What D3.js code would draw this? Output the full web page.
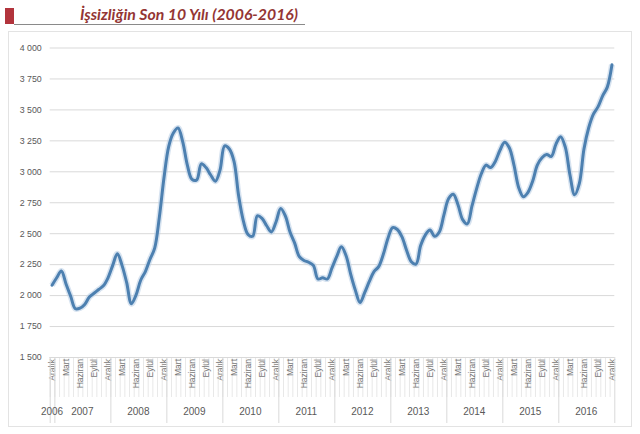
<!DOCTYPE html>
<html>
<head>
<meta charset="utf-8">
<script src="https://cdn.jsdelivr.net/npm/d3@7"></script>
<style>
  body { margin: 0; background: #fff; }
  svg { display: block; }
</style>
</head>
<body>
<div id="chart"></div>
<script>
// Aylık işsiz sayısı (bin kişi), Aralık 2006 - Aralık 2016
var years = [2006, 2007, 2008, 2009, 2010, 2011, 2012, 2013, 2014, 2015, 2016];
var monthNames = ["Ocak", "Şubat", "Mart", "Nisan", "Mayıs", "Haziran",
                  "Temmuz", "Ağustos", "Eylül", "Ekim", "Kasım", "Aralık"];
var values = [
  2080,                                                             // 2006 Ara
  2140, 2195, 2090, 1990, 1890, 1895, 1925, 1985, 2015, 2045, 2075, 2140, // 2007
  2240, 2335, 2240, 2100, 1930, 2000, 2120, 2190, 2290, 2380, 2630, 2950, // 2008
  3200, 3310, 3350, 3240, 3050, 2935, 2930, 3060, 3030, 2970, 2920, 3010, // 2009
  3205, 3180, 3080, 2800, 2600, 2490, 2475, 2640, 2620, 2560, 2510, 2590, // 2010
  2700, 2640, 2510, 2420, 2310, 2280, 2265, 2240, 2130, 2140, 2130, 2220, // 2011
  2310, 2390, 2320, 2170, 2040, 1940, 2020, 2110, 2190, 2230, 2330, 2460, // 2012
  2545, 2530, 2470, 2360, 2270, 2250, 2400, 2485, 2525, 2475, 2510, 2650, // 2013
  2780, 2815, 2730, 2610, 2575, 2720, 2860, 2980, 3050, 3030, 3080, 3170, // 2014
  3235, 3190, 3050, 2870, 2795, 2830, 2920, 3050, 3110, 3135, 3120, 3220, // 2015
  3280, 3195, 2970, 2810, 2900, 3180, 3350, 3460, 3520, 3610, 3680, 3860  // 2016
];
var yTicks = [1500, 1750, 2000, 2250, 2500, 2750, 3000, 3250, 3500, 3750, 4000];
var labelEvery = 3;

// categories: Aralık 2006, then every month of 2007..2016
var categories = [{ year: years[0], month: 11 }];
years.slice(1).forEach(function (y) {
    monthNames.forEach(function (m, i) { categories.push({ year: y, month: i }); });
});
categories.forEach(function (c, i) { c.value = values[i]; c.index = i; });

var W = 640, H = 434;
var plot = { left: 49.7, right: 614.3, top: 47.5, bottom: 357 };

var svg = d3.select('#chart').append('svg')
    .attr('width', W)
    .attr('height', H);

// title block
svg.append('rect')
    .attr('x', 5).attr('y', 8).attr('width', 9).attr('height', 16)
    .attr('fill', '#b2343c');
svg.append('line')
    .attr('x1', 14).attr('x2', 305).attr('y1', 24.5).attr('y2', 24.5)
    .attr('stroke', '#8a8a8a').attr('stroke-width', 1);
svg.append('text')
    .attr('x', 80).attr('y', 20)
    .attr('textLength', 218).attr('lengthAdjust', 'spacingAndGlyphs')
    .attr('font-family', 'Lato, "Open Sans", sans-serif')
    .attr('font-style', 'italic').attr('font-weight', 'bold')
    .attr('font-size', 14.5)
    .attr('fill', '#943634')
    .text('İşsizliğin Son 10 Yılı (2006-2016)');

// chart frame
svg.append('rect')
    .attr('x', 8.5).attr('y', 31.5).attr('width', 623).attr('height', 395)
    .attr('fill', 'none').attr('stroke', '#e3e3e3');

var x = d3.scaleBand()
    .domain(categories.map(function (c) { return c.index; }))
    .range([plot.left, plot.right])
    .paddingInner(0).paddingOuter(0);
var bw = x.bandwidth();
var cx = function (c) { return x(c.index) + bw / 2; };

var y = d3.scaleLinear()
    .domain([1500, 4000])
    .range([plot.bottom, plot.top]);

// grid lines + y labels
var yAxis = d3.axisLeft(y)
    .tickValues(yTicks)
    .tickSize(-(plot.right - plot.left))
    .tickPadding(8)
    .tickFormat(function (d) { return d3.format(',')(d).replace(',', ' '); });

var gy = svg.append('g')
    .attr('transform', 'translate(' + plot.left + ',0)')
    .call(yAxis);
gy.select('.domain').remove();
gy.selectAll('.tick line').attr('stroke', '#d9d9d9');
gy.selectAll('.tick text')
    .attr('x', -8)
    .attr('fill', '#595959')
    .attr('font-family', '"Liberation Sans", Arial, sans-serif')
    .attr('font-size', 8.8);

// category axis: month ticks
var axisG = svg.append('g');
var labelBottom = 397, yearBottom = 423;

axisG.selectAll('line.mtick')
    .data(categories)
    .enter().append('line')
    .attr('class', 'mtick')
    .attr('x1', function (c) { return x(c.index) + 0.5; })
    .attr('x2', function (c) { return x(c.index) + 0.5; })
    .attr('y1', plot.bottom)
    .attr('y2', labelBottom)
    .attr('stroke', '#e2e2e2')
    .attr('stroke-width', 0.8);

axisG.selectAll('text.mlabel')
    .data(categories.filter(function (c) { return c.index % labelEvery === 0; }))
    .enter().append('text')
    .attr('class', 'mlabel')
    .attr('transform', function (c) { return 'translate(' + (cx(c) + 3) + ',' + (plot.bottom + 2) + ') rotate(-90)'; })
    .attr('text-anchor', 'end')
    .attr('font-family', '"Liberation Sans", sans-serif')
    .attr('font-size', 8.5)
    .attr('fill', '#777777')
    .text(function (c) { return monthNames[c.month]; });

// year groups
var yearGroups = years.map(function (yr) {
    var cs = categories.filter(function (c) { return c.year === yr; });
    return { year: yr, first: cs[0], last: cs[cs.length - 1] };
});

var seps = yearGroups.map(function (g) { return x(g.first.index); })
    .concat([plot.right]);
axisG.selectAll('line.ysep')
    .data(seps)
    .enter().append('line')
    .attr('class', 'ysep')
    .attr('x1', function (d) { return d + 0.5; })
    .attr('x2', function (d) { return d + 0.5; })
    .attr('y1', plot.bottom)
    .attr('y2', yearBottom)
    .attr('stroke', '#d9d9d9');

axisG.append('line')
    .attr('x1', plot.left).attr('x2', plot.right)
    .attr('y1', plot.bottom + 0.5).attr('y2', plot.bottom + 0.5)
    .attr('stroke', '#d9d9d9');

axisG.selectAll('text.ylabel')
    .data(yearGroups)
    .enter().append('text')
    .attr('class', 'ylabel')
    .attr('x', function (g) { return (x(g.first.index) + x(g.last.index) + bw) / 2; })
    .attr('y', 415)
    .attr('text-anchor', 'middle')
    .attr('font-family', '"Liberation Sans Narrow", "Liberation Sans", sans-serif')
    .attr('font-size', 10)
    .attr('fill', '#595959')
    .text(function (g) { return g.year; });

// series line
var line = d3.line()
    .x(cx)
    .y(function (c) { return y(c.value); })
    .curve(d3.curveCatmullRom.alpha(0.5));

svg.append('path')
    .datum(categories)
    .attr('d', line)
    .attr('fill', 'none')
    .attr('stroke', '#bcd0e6')
    .attr('stroke-width', 6)
    .attr('stroke-opacity', 0.6)
    .attr('stroke-linejoin', 'round');

svg.append('path')
    .datum(categories)
    .attr('d', line)
    .attr('fill', 'none')
    .attr('stroke', '#4d80b0')
    .attr('stroke-width', 3)
    .attr('stroke-linejoin', 'round')
    .attr('stroke-linecap', 'round');
</script>
</body>
</html>
